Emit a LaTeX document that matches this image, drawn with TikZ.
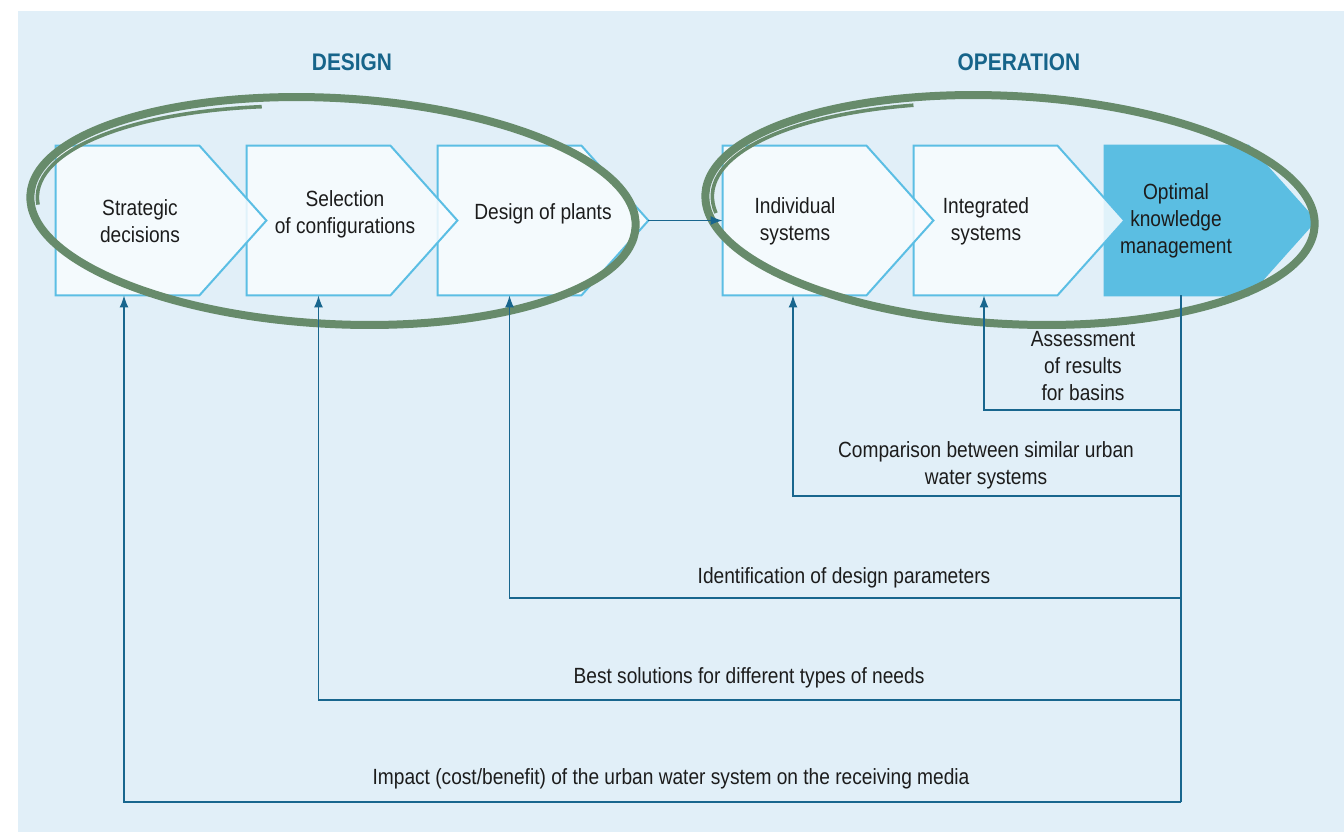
\documentclass[tikz,border=0pt]{standalone}
\usepackage{fontspec}
\setmainfont{Liberation Sans}[FakeStretch=0.87]
\usetikzlibrary{arrows.meta, positioning, calc}
\definecolor{bgblue}{RGB}{225,239,248}
\definecolor{boxline}{RGB}{91,190,228}
\definecolor{boxfill}{RGB}{248,252,255}
\definecolor{knowblue}{RGB}{91,190,226}
\definecolor{linkblue}{RGB}{24,102,142}
\definecolor{titleblue}{RGB}{22,100,138}
\definecolor{loopgreen}{RGB}{103,139,107}
\definecolor{txtgray}{RGB}{28,28,28}

\begin{document}
\begin{tikzpicture}[x=0.5pt, y=-0.5pt,
  stepbox/.style={rectangle, minimum width=71.5pt, minimum height=74.5pt, inner sep=0pt},
  chevron/.style={draw=boxline, fill=boxfill, fill opacity=0.85, line width=1pt, line join=miter},
  lastchevron/.style={draw=knowblue, fill=knowblue, line width=1pt},
  boxtext/.style={align=center, text=txtgray, font=\fontsize{11}{13.5}\selectfont},
  fblabel/.style={align=center, text=txtgray, font=\fontsize{11}{13.5}\selectfont},
  phase/.style={text=titleblue, font=\fontsize{12}{14}\selectfont\bfseries},
  loopline/.style={draw=loopgreen, line width=4pt},
  loopthin/.style={draw=loopgreen, line width=1.8pt},
  fbline/.style={draw=linkblue, line width=0.75pt},
  fbarrow/.style={fbline, -{Latex[length=6pt, width=4.5pt]}}
]
  \useasboundingbox (0,0) rectangle (1344,832);
  \fill[bgblue] (18,11) rectangle (1344,832);

  \node[phase] (design) at (352,62) {DESIGN};
  \node[phase] (operation) at (1019,62) {OPERATION};

  \node[stepbox] (strat) at (127.5,220.5) {};
  \node[stepbox] (select) at (318.5,220.5) {};
  \node[stepbox] (plants) at (509.5,220.5) {};
  \node[stepbox] (indiv) at (794.5,220.5) {};
  \node[stepbox] (integ) at (985.5,220.5) {};
  \node[stepbox] (optim) at (1176.5,220.5) {};

  \path[lastchevron] (optim.north west) -- (optim.north east) -- ([xshift=33.5pt]optim.east) -- (optim.south east) -- (optim.south west) -- cycle;
  \foreach \b in {integ, indiv, plants, select, strat}
    \path[chevron] (\b.north west) -- (\b.north east) -- ([xshift=33.5pt]\b.east) -- (\b.south east) -- (\b.south west) -- cycle;
  \coordinate (plants-tip) at ([xshift=33.5pt]plants.east);

  \node[boxtext] (strat-t) at (140,221) {Strategic\\decisions};
  \node[boxtext] (select-t) at (345,214) {Selection\\of configurations};
  \node[boxtext] (plants-t) at (543,214) {Design of plants};
  \node[boxtext] (indiv-t) at (795,221) {Individual\\systems};
  \node[boxtext] (integ-t) at (986,221) {Integrated\\systems};
  \node[boxtext] (optim-t) at (1176,221) {Optimal\\knowledge\\management};

  \draw[loopline, rotate around={-3:(333,211)}] (333,211) ellipse [x radius=151.5pt, y radius=56.5pt];
  \draw[loopthin, rotate around={-3:(333,211)}] (333,211) ++(105:148pt and 52pt) arc [start angle=105, end angle=185, x radius=148pt, y radius=52pt];
  \draw[loopline, rotate around={-3:(1010,210)}] (1010,210) ellipse [x radius=152.5pt, y radius=57pt];
  \draw[loopthin, rotate around={-3:(1010,210)}] (1010,210) ++(110:149pt and 53pt) arc [start angle=110, end angle=190, x radius=149pt, y radius=53pt];

  \draw[fbarrow] (plants-tip) -- (indiv.west);

  \coordinate (fb1) at (1181,410);
  \coordinate (fb2) at (1181,496);
  \coordinate (fb3) at (1181,598);
  \coordinate (fb4) at (1181,700);
  \coordinate (fb5) at (1181,802);
  \draw[fbline] ([xshift=2.25pt]optim.south) -- (fb5);
  \draw[fbarrow] (fb1) -| ([xshift=-0.75pt]integ.south);
  \draw[fbarrow] (fb2) -| ([xshift=-0.75pt]indiv.south);
  \draw[fbarrow] (fb3) -| (plants.south);
  \draw[fbarrow] (fb4) -| (select.south);
  \draw[fbarrow] (fb5) -| ([xshift=-1.75pt]strat.south);

  \node[fblabel] (fb1-t) at (1083,366) {Assessment\\of results\\for basins};
  \node[fblabel] (fb2-t) at (986,465) {Comparison between similar urban\\water systems};
  \node[fblabel] (fb3-t) at (844,578) {Identification of design parameters};
  \node[fblabel] (fb4-t) at (749,678) {Best solutions for different types of needs};
  \node[fblabel] (fb5-t) at (671,779) {Impact (cost/benefit) of the urban water system on the receiving media};
\end{tikzpicture}
\end{document}
